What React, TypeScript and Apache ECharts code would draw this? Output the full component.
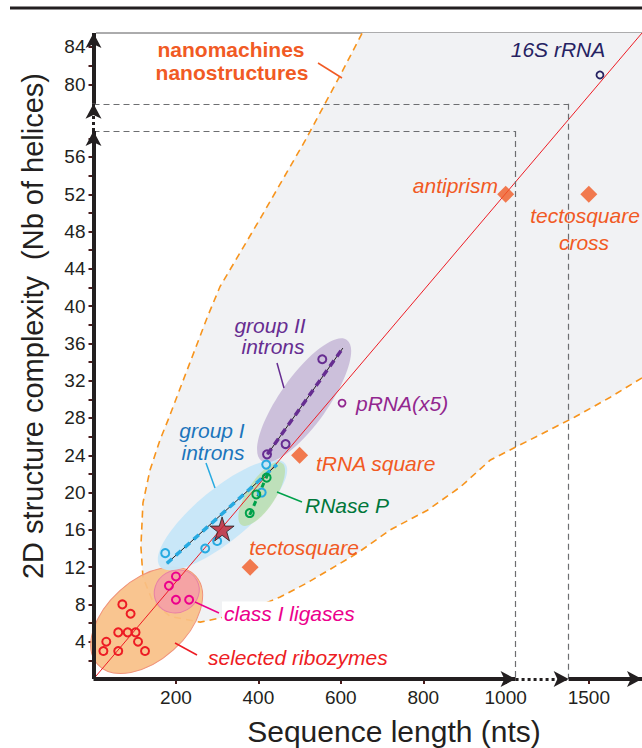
import React, { useEffect, useRef } from 'react';
import * as echarts from 'echarts';

const FONT = "'Liberation Sans', Arial, Helvetica, sans-serif";

// ---------- axes ----------
const xMin = 0;
const xMax = 1629;
const yMin = 0;
const yMax = 85.5;
const xBreak = [1024, 1451];
const yBreak = [58.8, 77.9];
const xGap = 128.7;
const yGap = 2.9;
const xTickValues = [200, 400, 600, 800, 1000, 1500];
const yLabelValues = [4, 8, 12, 16, 20, 24, 28, 32, 36, 40, 44, 48, 52, 56, 80, 84];
const yTickValues = [2, 4, 6, 8, 10, 12, 14, 16, 18, 20, 22, 24, 26, 28, 30, 32, 34, 36, 38, 40, 42, 44, 46, 48, 50, 52, 54, 56, 58, 80, 82, 84];

// ---------- data (sequence length nts, number of helices) ----------
const selectedRibozymes = [[24, 3], [31, 4], [60, 3], [60, 5], [70, 8], [83, 5], [90, 7], [102, 5], [108, 4], [125, 3]];
const classILigases = [[183, 10], [200, 11], [200, 8.5], [232, 8.5]];
const groupIIntrons = [[174, 13.5], [271, 14], [300, 14.8], [408, 20], [419, 23]];
const rnaseP = [[379, 17.8], [395, 19.8], [420, 21.6]];
const groupIIIntrons = [[421, 24.1], [466, 25.2], [555, 34.3]];
const pRNA = [[603, 29.6]];
const rRNA16S = [[1527, 81]];
const designedMean = [[312, 16.1]];
const nanoNames = ['antiprism', 'tectosquare cross', 'tRNA square', 'tectosquare'];
const nanoValues = [[1000, 52], [1500, 52], [500, 24], [380, 12]];

// regression lines
const fitAll = [[0, 0], [1629, 85.5]];
const fitGroupI = [[178, 12.4], [445, 23]];
const fitGroupII = [[422, 24.1], [605, 35.5]];
const fitRnaseP = [[379, 17.6], [428, 22.5]];

// cluster envelopes (centres in data units)
const clusterNames = ['selected ribozymes', 'class I ligases', 'group I introns', 'RNase P', 'group II introns'];
const clusterCenters = [[129, 6.3], [202, 9.4], [313, 17.6], [408, 19.85], [511, 29.9]];

// nanomachines / nanostructures domain boundary (data units)
const nanoEnvelope = [
  [1629, 32.3], [1551, 30.2], [1466, 28.1], [963, 23.5], [890, 20.6], [810, 18.1], [720, 16.0],
  [640, 13.5], [518, 10.3], [453, 8.8], [356, 7.0], [259, 6.1], [186, 6.7], [144, 8.3], [120, 10.9],
  [115, 14.2], [120, 18.9], [137, 22.4], [161, 25.6], [181, 27.8], [276, 38.8], [307, 42.1],
  [402, 49.2], [514, 57.8], [599, 81.0], [652, 85.5],
];

// ---------- styles ----------
const ellipseStyles = [
  { rx: 66, ry: 40, rot: 42, fill: 'rgba(249,192,135,0.92)', stroke: '#f0937a' },
  { rx: 23, ry: 21, rot: 30, fill: 'rgba(244,160,166,0.9)', stroke: '#e77fa6' },
  { rx: 81, ry: 26, rot: 39.5, fill: 'rgba(199,230,248,0.97)', stroke: 'none' },
  { rx: 37, ry: 14, rot: 57, fill: 'rgba(188,223,178,0.9)', stroke: 'none' },
  { rx: 74, ry: 24, rot: 54.7, fill: 'rgba(202,190,218,0.97)', stroke: 'none' },
];

const AXIS = '#231f20';

function matchLabel(list: number[], v: any) {
  const n = Number(typeof v === 'object' && v !== null ? v.value : v);
  for (const t of list) {
    if (Math.abs(t - n) < 0.5) return String(t);
  }
  return '';
}

function circleSeries(name: string, data: number[][], color: string, size = 8, bw = 2) {
  return {
    name,
    type: 'scatter',
    data,
    symbol: 'circle',
    symbolSize: size,
    z: 6,
    itemStyle: { color: 'rgba(255,255,255,0)', borderColor: color, borderWidth: bw, opacity: 1 },
  };
}

function lineSeries(name: string, data: number[][], color: string, width: number, type: any, z: number) {
  return {
    name,
    type: 'line',
    data,
    symbol: 'none',
    z,
    lineStyle: { color, width, type },
  };
}

function seg(a: number[], b: number[], style: any, arrow: boolean) {
  return [
    { coord: a, symbol: 'none', lineStyle: style },
    { coord: b, symbol: arrow ? 'arrow' : 'none', symbolSize: [12, 15], lineStyle: style },
  ];
}

function text(x: number, y: number, t: string, color: string, opts: any = {}) {
  return {
    type: 'text',
    x,
    y,
    z: 100,
    rotation: opts.rotation || 0,
    style: {
      text: t,
      fill: color,
      fontFamily: FONT,
      fontSize: opts.size || 21,
      fontStyle: opts.italic === false ? 'normal' : 'italic',
      fontWeight: opts.bold ? 'bold' : 'normal',
      align: opts.align || 'left',
      verticalAlign: 'middle',
      backgroundColor: opts.bg,
      padding: opts.bg ? [1, 2] : 0,
    },
  };
}

function leader(x1: number, y1: number, x2: number, y2: number, color: string) {
  return { type: 'line', z: 100, shape: { x1, y1, x2, y2 }, style: { stroke: color, lineWidth: 1.5 } };
}

export default function App() {
  const ref = useRef<HTMLDivElement>(null);
  useEffect(() => {
    if (!ref.current) return;
    const chart = echarts.init(ref.current, null, { renderer: 'svg' });
    const solid = { color: AXIS, width: 4, type: 'solid' };
    const dotted = { color: AXIS, width: 3, type: [3, 3] };
    const dash = { color: '#6d6e71', width: 1.2, type: [6, 4] };

    const option: any = {
      animation: false,
      backgroundColor: '#fff',
      grid: { left: 93.5, right: 0, top: 33, bottom: 69, containLabel: false, outerBoundsMode: 'none' },
      xAxis: {
        type: 'value',
        min: xMin,
        max: xMax,
        breaks: [{ start: xBreak[0], end: xBreak[1], gap: xGap }],
        breakArea: { show: false },
        axisLine: { show: false },
        splitLine: { show: false },
        axisTick: {
          show: true,
          customValues: xTickValues,
          length: 5,
          lineStyle: { color: '#4a1c1c', width: 2 },
        },
        axisLabel: {
          customValues: xTickValues,
          fontSize: 19,
          color: AXIS,
          fontFamily: FONT,
          margin: 9,
          formatter: (v: any) => matchLabel(xTickValues, v),
        },
      },
      yAxis: {
        type: 'value',
        min: yMin,
        max: yMax,
        breaks: [{ start: yBreak[0], end: yBreak[1], gap: yGap }],
        breakArea: { show: false },
        axisLine: { show: false },
        splitLine: { show: false },
        axisTick: {
          show: true,
          customValues: yTickValues,
          length: 5,
          lineStyle: { color: '#4a1c1c', width: 2 },
        },
        axisLabel: {
          customValues: yLabelValues,
          fontSize: 19,
          color: AXIS,
          fontFamily: FONT,
          margin: 8,
          formatter: (v: any) => matchLabel(yLabelValues, v),
        },
      },
      graphic: [
        { type: 'line', z: 100, shape: { x1: 10, y1: 8, x2: 642, y2: 8 }, style: { stroke: AXIS, lineWidth: 3 } },
        { type: 'line', z: 1, shape: { x1: 96, y1: 33, x2: 642, y2: 33 }, style: { stroke: '#58595b', lineWidth: 1 } },
        text(231, 49, 'nanomachines', '#f15a24', { bold: true, italic: false, align: 'center', size: 21 }),
        text(232, 72, 'nanostructures', '#f15a24', { bold: true, italic: false, align: 'center', size: 21 }),
        leader(318, 63, 342, 78, '#f15a24'),
        text(558, 49, '16S rRNA', '#262262', { align: 'center' }),
        text(498, 185, 'antiprism', '#f15a24', { align: 'right' }),
        text(585, 215, 'tectosquare', '#f15a24', { align: 'center' }),
        text(584, 242, 'cross', '#f15a24', { align: 'center' }),
        text(270, 325, 'group II', '#662d91', { align: 'center' }),
        text(273, 346, 'introns', '#662d91', { align: 'center' }),
        leader(277, 363, 284, 388, '#662d91'),
        text(356, 403, 'pRNA(x5)', '#92278f'),
        text(316, 463, 'tRNA square', '#f15a24'),
        text(305, 505, 'RNase P', '#00773a'),
        leader(277, 492, 302, 502, '#00a14b'),
        text(212, 430, 'group I', '#1c75bc', { align: 'center' }),
        text(213, 452, 'introns', '#1c75bc', { align: 'center' }),
        leader(206, 463, 215, 488, '#27aae1'),
        text(304, 547, 'tectosquare', '#f15a24', { align: 'center' }),
        text(222, 613, 'class I ligases', '#ec008c', { bg: '#ffffff' }),
        leader(195, 602, 219, 613, '#ec008c'),
        text(208, 657, 'selected ribozymes', '#ed1c24'),
        leader(175, 643, 197, 655, '#ed1c24'),
        text(394, 731, 'Sequence length (nts)', AXIS, { italic: false, align: 'center', size: 30 }),
        text(33, 326, '2D structure complexity  (Nb of helices)', AXIS, { italic: false, align: 'center', size: 29, rotation: Math.PI / 2 }),
      ],
      series: [
        {
          name: 'nanomachines nanostructures',
          type: 'custom',
          z: 1,
          silent: true,
          data: [[0, 0]],
          renderItem: (params: any, api: any) => {
            const pts = nanoEnvelope.map((p) => api.coord(p));
            const corner = api.coord([xMax, yMax]);
            return {
              type: 'group',
              children: [
                { type: 'polygon', shape: { points: [...pts, corner] }, style: { fill: '#f1f2f4', stroke: 'none' } },
                { type: 'polyline', shape: { points: pts }, style: { fill: 'none', stroke: '#f7941d', lineWidth: 1.6, lineDash: [7, 5] } },
              ],
            };
          },
        },
        {
          name: 'breaks',
          type: 'line',
          data: [],
          z: 2,
          markLine: {
            silent: true,
            animation: false,
            symbol: 'none',
            label: { show: false },
            emphasis: { disabled: true },
            data: [
              seg([0, yBreak[0]], [xBreak[0], yBreak[0]], dash, false),
              seg([xBreak[0], yBreak[0]], [xBreak[0], 0], dash, false),
              seg([0, yBreak[1]], [xBreak[1], yBreak[1]], dash, false),
              seg([xBreak[1], yBreak[1]], [xBreak[1], 0], dash, false),
            ],
          },
        },
        {
          name: 'clusters',
          type: 'custom',
          z: 3,
          silent: true,
          data: clusterCenters,
          renderItem: (params: any, api: any) => {
            const c = api.coord([api.value(0), api.value(1)]);
            const s = ellipseStyles[params.dataIndex];
            return {
              type: 'ellipse',
              x: c[0],
              y: c[1],
              rotation: (s.rot * Math.PI) / 180,
              shape: { cx: 0, cy: 0, rx: s.rx, ry: s.ry },
              style: { fill: s.fill, stroke: s.stroke, lineWidth: 1 },
            };
          },
        },
        { ...lineSeries('fit all', fitAll, '#ed1c24', 1, 'solid', 4), clip: false },
        lineSeries('fit group I black', fitGroupI, AXIS, 1, 'solid', 4),
        lineSeries('fit group I', fitGroupI, '#27aae1', 3.5, [7, 5], 4),
        lineSeries('fit group II black', fitGroupII, AXIS, 1, 'solid', 4),
        lineSeries('fit group II', fitGroupII, '#662d91', 3.5, [7, 5], 4),
        lineSeries('fit RNase P', fitRnaseP, '#00a14b', 3, [5, 5], 4),
        circleSeries('selected ribozymes', selectedRibozymes, '#ed1c24'),
        circleSeries('class I ligases', classILigases, '#ec008c'),
        circleSeries('group I introns', groupIIntrons, '#27aae1'),
        circleSeries('RNase P', rnaseP, '#00a14b'),
        circleSeries('group II introns', groupIIIntrons, '#662d91'),
        circleSeries('pRNA', pRNA, '#92278f', 7, 1.8),
        circleSeries('16S rRNA', rRNA16S, '#262262', 7, 1.8),
        {
          name: 'nanostructures',
          type: 'scatter',
          z: 6,
          symbol: 'diamond',
          symbolSize: 17,
          data: nanoValues.map((v, i) => ({ name: nanoNames[i], value: v })),
          itemStyle: { color: '#f15a24' },
        },
        {
          name: 'mean',
          type: 'scatter',
          z: 7,
          symbol: 'path://M12,0 L14.8,8.6 L23.8,8.6 L16.5,13.9 L19.3,22.5 L12,17.2 L4.7,22.5 L7.5,13.9 L0.2,8.6 L9.2,8.6 Z',
          symbolSize: 24,
          data: designedMean,
          itemStyle: { color: '#be1e2d', borderColor: AXIS, borderWidth: 1 },
        },
        {
          name: 'axes',
          type: 'line',
          data: [],
          z: 8,
          clip: false,
          markLine: {
            silent: true,
            animation: false,
            symbol: 'none',
            label: { show: false },
            emphasis: { disabled: true },
            data: [
              seg([0, 0], [xBreak[0], 0], solid, true),
              seg([xBreak[0], 0], [xBreak[1], 0], dotted, true),
              seg([xBreak[1], 0], [xMax, 0], solid, true),
              seg([0, 0], [0, yBreak[0]], solid, true),
              seg([0, yBreak[0]], [0, yBreak[1]], dotted, true),
              seg([0, yBreak[1]], [0, yMax], solid, true),
            ],
          },
        },
      ],
    };
    chart.setOption(option);
    return () => chart.dispose();
  }, []);
  return (
    <div
      ref={ref}
      style={{ position: 'fixed', left: 0, top: 0, width: 642, height: 748, background: '#fff' }}
    />
  );
}
